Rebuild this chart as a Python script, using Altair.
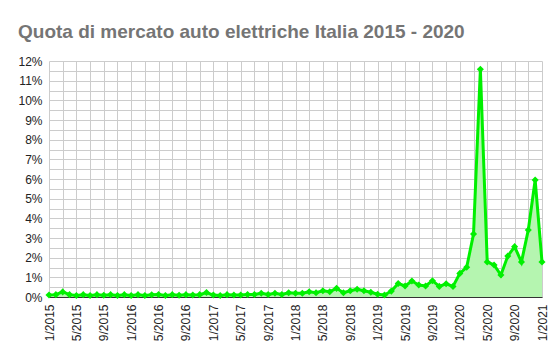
import altair as alt
import pandas as pd

# Month labels (1/2015 ... 1/2021) and market share values (%)
months = [f"{m}/{y}" for y in range(2015, 2021) for m in range(1, 13)] + ["1/2021"]
share = [
    0.10, 0.12, 0.26, 0.12, 0.08, 0.12, 0.08, 0.12, 0.09, 0.12, 0.08, 0.12,
    0.08, 0.12, 0.08, 0.11, 0.13, 0.08, 0.12, 0.09, 0.12, 0.10, 0.12, 0.23,
    0.10, 0.08, 0.12, 0.10, 0.10, 0.13, 0.13, 0.19, 0.13, 0.19, 0.13, 0.22,
    0.19, 0.19, 0.27, 0.22, 0.32, 0.27, 0.44, 0.22, 0.32, 0.39, 0.32, 0.24,
    0.14, 0.10, 0.30, 0.69, 0.56, 0.81, 0.61, 0.56, 0.83, 0.54, 0.67, 0.54,
    1.20, 1.51, 3.20, 11.58, 1.78, 1.63, 1.12, 2.08, 2.56, 1.78, 3.41, 5.95,
    1.78,
]

df = pd.DataFrame({"mese": months, "idx": list(range(len(months))), "quota": share})

x_vals = list(range(0, 73, 2))
y_vals = [i * 0.5 for i in range(0, 25)]

x = alt.X(
    "idx:Q",
    scale=alt.Scale(domain=[0, 72], nice=False, zero=False),
    axis=alt.Axis(
        values=x_vals,
        labelExpr="datum.value % 4 == 0 ? ((datum.value % 12) + 1) + '/' + (2015 + floor(datum.value / 12)) : ''",
        labelAngle=270,
        labelAlign="right",
        labelBaseline="middle",
        labelPadding=7,
        ticks=False,
        domain=True,
        domainColor="#333333",
        grid=True,
        gridColor="#cccccc",
        title=None,
        labelOverlap=False,
        labelFlush=False,
    ),
)
y = alt.Y(
    "quota:Q",
    scale=alt.Scale(domain=[0, 12], nice=False),
    axis=alt.Axis(
        values=y_vals,
        labelExpr="datum.value % 1 == 0 ? datum.value + '%' : ''",
        labelPadding=7,
        ticks=False,
        domain=False,
        grid=True,
        gridColor="#cccccc",
        title=None,
        labelOverlap=False,
    ),
)

base = alt.Chart(df)
area = base.mark_area(color="#b5f5b0", opacity=1).encode(x=x, y=y)
line = base.mark_line(color="#00f000", strokeWidth=3).encode(x=x, y=y)
pts = base.mark_point(shape="diamond", filled=True, color="#00f000", size=50, opacity=1).encode(x=x, y=y)

chart = (
    alt.layer(area, line, pts)
    .properties(
        width=493,
        height=236,
        autosize=alt.AutoSizeParams(type="none"),
        padding={"left": 41, "top": 53, "right": 10, "bottom": 50},
        title=alt.TitleParams(
            "Quota di mercato auto elettriche Italia 2015 - 2020",
            anchor="start",
            frame="group",
            dx=-31,
            fontSize=19,
            font="Liberation Sans",
            fontWeight="bold",
            color="#757575",
            offset=13,
        ),
    )
    .configure_view(strokeWidth=0)
    .configure_axis(
        labelFont="Liberation Sans",
        labelFontSize=12,
        labelColor="#222222",
    )
)

chart.save("out.html", embed_options={"renderer": "svg", "actions": False})
